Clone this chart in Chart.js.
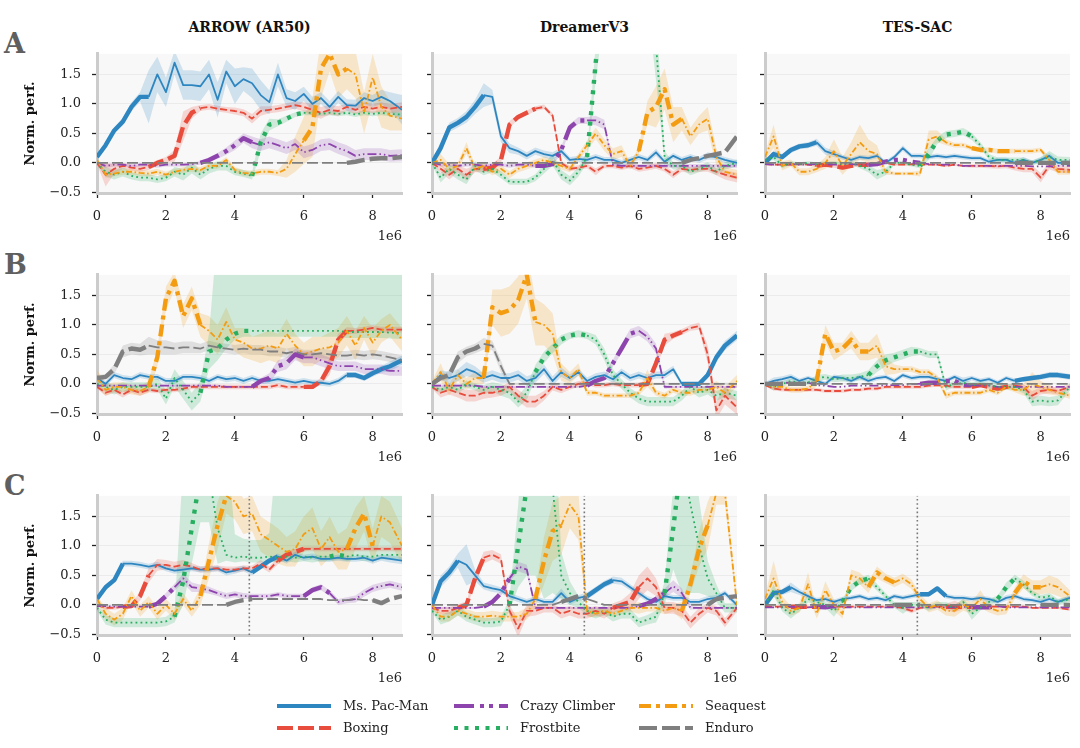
<!DOCTYPE html>
<html lang="en">
<head>
    <meta charset="UTF-8">
    <title>Normalized performance per task</title>
    <script src="https://cdn.jsdelivr.net/npm/chart.js"></script>
    <style>
        body { margin: 0; background: #fff; font-family: "DejaVu Serif", serif; color: #111; }
        #stage { position: relative; width: 1080px; height: 748px; overflow: hidden; }
        #stage canvas { position: absolute; }
        .colTitle { position: absolute; width: 305px; text-align: center; font-weight: bold; font-size: 14px; line-height: 16px; top: 19px; }
        .rowLetter { position: absolute; left: 4px; font-weight: bold; font-size: 27px; line-height: 27px; color: #5f5f5f; }
        .offset { position: absolute; font-size: 13px; line-height: 16px; color: #222; }
        .legItem { position: absolute; font-size: 13px; line-height: 16px; color: #222; white-space: nowrap; }
        .legItem svg { position: absolute; }
    </style>
</head>
<body>
<div id="stage"></div>

<script>
// x positions of the evaluation points, in millions of env steps
const xSteps = [0,0.25,0.5,0.75,1,1.25,1.5,1.75,2,2.25,2.5,2.75,3,3.25,3.5,3.75,4,4.25,4.5,4.75,5,5.25,5.5,5.75,6,6.25,6.5,6.75,7,7.25,7.5,7.75,8,8.25,8.5,8.85];
const xTicks = [0, 2, 4, 6, 8];
const yTicks = [-0.5, 0, 0.5, 1, 1.5];

const games = ['Ms. Pac-Man', 'Boxing', 'Crazy Climber', 'Frostbite', 'Seaquest', 'Enduro'];
const gameColors = ['#2e86c1', '#e74c3c', '#8e44ad', '#27ae60', '#f39c12', '#7f7f7f'];
const methods = ['ARROW (AR50)', 'DreamerV3', 'TES-SAC'];
const rowLetters = ['A', 'B', 'C'];

// task schedule of each row (index into games) and the step edges of each task (millions)
const taskOrderA = [0, 1, 2, 3, 4, 5];
const taskOrderB = [5, 4, 3, 2, 1, 0];
const taskOrderC = [0, 1, 2, 3, 4, 5, 0, 1, 2, 3, 4, 5];
const taskEdgesAB = [0, 1.475, 2.95, 4.425, 5.9, 7.375, 8.85];
const taskEdgesC = [0, 0.7375, 1.475, 2.2125, 2.95, 3.6875, 4.425, 5.1625, 5.9, 6.6375, 7.375, 8.1125, 8.85];
const switchLineC = 4.42;

// ---- Row A : 1 = ARROW (AR50), 2 = DreamerV3, 3 = TES-SAC ----
const A1_pac = [0.10,0.30,0.55,0.70,0.95,1.12,1.12,1.50,1.20,1.70,1.32,1.32, 1.30,1.50,1.07,1.55,1.30,1.42,1.35,1.15,1.03,1.50,1.10,1.05, 1.17,1.00,1.10,0.95,1.12,0.98,0.97,1.10,1.05,1.12,1.05,0.90];
const A1_pac_sd = [0.05,0.05,0.05,0.06,0.08,0.08,0.45,0.30,0.25,0.20,0.25,0.25, 0.25,0.25,0.30,0.20,0.30,0.20,0.25,0.25,0.20,0.20,0.15,0.15, 0.12,0.12,0.10,0.10,0.10,0.10,0.10,0.10,0.10,0.12,0.15,0.25];
const A1_box = [0.00,-0.20,-0.10,-0.05,-0.08,-0.10,-0.07,0.00,0.05,0.12,0.62,0.85, 0.93,0.95,0.92,0.90,0.88,0.85,0.75,0.88,0.90,0.92,0.95,0.98, 0.95,0.90,0.85,0.90,0.88,0.95,0.90,0.95,0.92,0.95,0.92,0.95];
const A1_box_sd = [0.02,0.20,0.08,0.05,0.05,0.05,0.05,0.05,0.05,0.10,0.25,0.10, 0.05,0.05,0.05,0.05,0.06,0.06,0.08,0.08,0.06,0.06,0.06,0.06, 0.08,0.10,0.10,0.08,0.08,0.06,0.08,0.08,0.08,0.08,0.08,0.08];
const A1_crazy = [0.00,-0.05,-0.03,-0.03,-0.05,-0.03,-0.03,-0.05,-0.03,-0.03,-0.03,-0.02, 0.00,0.05,0.12,0.20,0.30,0.42,0.35,0.30,0.35,0.30,0.25,0.32, 0.18,0.22,0.30,0.32,0.25,0.20,0.12,0.15,0.15,0.15,0.12,0.13];
const A1_crazy_sd = [0.02,0.03,0.03,0.03,0.03,0.03,0.03,0.03,0.03,0.03,0.03,0.03, 0.03,0.04,0.05,0.06,0.08,0.08,0.10,0.10,0.10,0.10,0.10,0.10, 0.10,0.10,0.10,0.10,0.10,0.10,0.10,0.10,0.10,0.10,0.10,0.10];
const A1_frost = [0.00,-0.15,-0.20,-0.15,-0.22,-0.25,-0.25,-0.28,-0.25,-0.15,-0.20,-0.08, -0.20,-0.10,-0.05,-0.05,-0.15,-0.18,-0.22,0.35,0.65,0.68,0.75,0.82, 0.85,0.85,0.83,0.85,0.83,0.85,0.82,0.85,0.83,0.85,0.83,0.82];
const A1_frost_sd = [0.03,0.08,0.08,0.08,0.06,0.06,0.06,0.06,0.06,0.08,0.10,0.10, 0.08,0.08,0.08,0.08,0.06,0.06,0.06,0.15,0.10,0.06,0.05,0.04, 0.04,0.04,0.04,0.04,0.04,0.04,0.04,0.04,0.04,0.04,0.04,0.04];
const A1_sea = [0.05,-0.20,-0.18,-0.15,-0.15,-0.17,-0.18,-0.15,-0.20,-0.15,-0.12,-0.10, -0.12,-0.05,-0.05,0.05,-0.12,-0.17,-0.18,-0.15,-0.15,-0.17,-0.10,0.15, 0.38,0.60,1.60,1.85,1.50,1.60,1.50,0.85,1.45,0.95,0.80,0.75];
const A1_sea_sd = [0.03,0.05,0.05,0.05,0.05,0.05,0.05,0.05,0.05,0.05,0.05,0.05, 0.05,0.05,0.05,0.05,0.05,0.05,0.05,0.05,0.05,0.05,0.15,0.30, 0.40,0.50,0.50,0.30,0.40,0.35,0.40,0.35,0.40,0.35,0.25,0.20];
const A1_enduro = [0,0,0,0,0,0,0,0,0,0,0,0, 0,0,0,0,0,0,0,0,0,0,0,0, 0,0,0,0,0,0,0.02,0.05,0.07,0.08,0.08,0.10];

const A2_pac = [0.00,0.25,0.60,0.68,0.78,0.95,1.15,1.12,0.45,0.25,0.20,0.12, 0.20,0.15,0.12,0.20,0.05,0.07,0.05,0.10,0.05,0.05,0.00,0.05, 0.10,0.05,0.18,0.02,0.12,0.05,0.10,0.05,0.12,0.10,0.05,0.00];
const A2_pac_sd = [0.03,0.10,0.08,0.08,0.10,0.12,0.20,0.12,0.10,0.08,0.06,0.06, 0.06,0.06,0.06,0.06,0.05,0.05,0.05,0.05,0.05,0.05,0.05,0.05, 0.05,0.05,0.06,0.05,0.05,0.05,0.05,0.05,0.06,0.05,0.05,0.05];
const A2_box = [0.00,-0.10,-0.20,-0.10,-0.20,-0.10,-0.10,-0.08,0.05,0.65,0.78,0.85, 0.92,0.95,0.80,0.00,-0.10,-0.08,-0.05,-0.15,-0.05,-0.05,-0.08,-0.05, -0.10,-0.08,-0.05,-0.10,-0.20,-0.10,-0.12,-0.10,-0.10,-0.15,-0.20,-0.25];
const A2_box_sd = [0.02,0.06,0.08,0.06,0.10,0.06,0.06,0.06,0.06,0.06,0.04,0.04, 0.04,0.04,0.04,0.04,0.04,0.04,0.04,0.06,0.04,0.04,0.04,0.04, 0.05,0.05,0.05,0.05,0.06,0.05,0.05,0.05,0.05,0.06,0.08,0.08];
const A2_crazy = [0.00,-0.03,-0.03,-0.05,-0.03,-0.03,-0.05,-0.03,-0.03,-0.05,-0.03,-0.03, -0.05,-0.05,-0.02,0.22,0.60,0.72,0.72,0.72,0.65,-0.03,-0.05,-0.05, -0.05,-0.05,-0.05,-0.05,-0.05,-0.05,-0.05,-0.05,-0.05,-0.05,-0.05,-0.05];
const A2_crazy_sd = [0.02,0.03,0.03,0.03,0.03,0.03,0.03,0.03,0.03,0.03,0.03,0.03, 0.03,0.03,0.03,0.06,0.06,0.06,0.06,0.08,0.08,0.03,0.03,0.03, 0.03,0.03,0.03,0.03,0.03,0.03,0.03,0.03,0.03,0.03,0.03,0.03];
const A2_frost = [0.00,-0.25,-0.10,-0.20,-0.28,-0.05,-0.15,-0.10,-0.20,-0.32,-0.32,-0.32, -0.25,-0.10,0.05,-0.20,-0.30,-0.15,0.10,1.70,3.00,4.00,4.00,4.00, 4.00,3.50,2.00,0.10,-0.05,-0.05,-0.15,-0.10,-0.05,-0.15,-0.05,0.00];
const A2_frost_sd = [0.03,0.08,0.08,0.08,0.08,0.08,0.06,0.06,0.06,0.05,0.05,0.05, 0.06,0.08,0.10,0.08,0.08,0.08,0.10,0.30,0.50,0.80,0.80,0.80, 0.80,0.80,0.60,0.10,0.06,0.06,0.06,0.06,0.06,0.06,0.06,0.06];
const A2_sea = [0.00,0.05,-0.10,-0.05,0.25,-0.10,-0.05,-0.15,-0.10,-0.20,-0.10,-0.05, 0.00,0.05,0.00,-0.05,-0.10,0.10,0.30,0.50,0.30,0.15,0.20,-0.05, 0.20,0.85,0.95,1.25,0.65,0.75,0.45,0.65,0.75,0.10,-0.15,-0.20];
const A2_sea_sd = [0.05,0.10,0.08,0.06,0.10,0.06,0.06,0.06,0.06,0.06,0.06,0.06, 0.06,0.06,0.06,0.06,0.06,0.06,0.08,0.10,0.10,0.10,0.10,0.06, 0.06,0.20,0.35,0.35,0.30,0.20,0.15,0.15,0.20,0.15,0.08,0.08];
const A2_enduro = [0,0,0,0,0,0,0,0,0,0,0,0, 0,0,0,0,0,0,0,0,0,0,0,0, 0,0,0,0,0,0,0.05,0.08,0.12,0.15,0.18,0.45];

const A3_pac = [0.00,0.15,0.10,0.22,0.28,0.30,0.35,0.20,0.15,0.10,0.05,0.10, 0.08,0.12,0.00,0.10,0.25,0.12,0.12,0.10,0.12,0.10,0.12,0.10, 0.08,0.08,0.02,0.05,0.05,0.00,0.05,0.00,0.05,0.12,0.00,0.00];
const A3_pac_sd = [0.03,0.06,0.05,0.05,0.05,0.05,0.06,0.06,0.05,0.04,0.04,0.04, 0.04,0.04,0.04,0.04,0.05,0.04,0.04,0.04,0.04,0.04,0.04,0.04, 0.04,0.04,0.04,0.04,0.04,0.04,0.05,0.04,0.04,0.05,0.05,0.05];
const A3_box = [-0.02,-0.03,-0.03,-0.03,-0.02,-0.03,-0.05,-0.03,-0.05,-0.08,-0.05,-0.03, -0.03,-0.02,0.00,-0.03,-0.03,-0.02,-0.03,-0.03,-0.03,-0.05,-0.03,-0.05, -0.05,-0.05,-0.05,-0.06,-0.05,-0.08,-0.10,-0.10,-0.25,-0.05,-0.10,-0.12];
const A3_box_sd = [0.02,0.02,0.02,0.02,0.02,0.02,0.02,0.02,0.03,0.03,0.03,0.02, 0.02,0.02,0.02,0.02,0.02,0.02,0.02,0.02,0.02,0.02,0.02,0.02, 0.03,0.03,0.04,0.04,0.04,0.05,0.06,0.06,0.08,0.06,0.06,0.06];
const A3_crazy = [-0.02,-0.03,-0.03,-0.02,-0.03,-0.03,-0.02,-0.02,-0.03,-0.02,-0.02,-0.03, -0.03,-0.02,0.02,0.05,0.05,0.02,0.00,-0.02,-0.03,-0.03,-0.03,-0.05, -0.05,-0.05,-0.05,-0.05,-0.05,-0.05,-0.05,-0.06,-0.06,-0.06,-0.05,-0.05];
const A3_frost = [0.05,0.10,-0.05,0.00,-0.02,0.00,-0.02,0.00,0.00,-0.02,0.00,-0.05, -0.10,-0.20,-0.15,0.00,0.00,-0.03,-0.05,0.15,0.38,0.48,0.50,0.53, 0.45,0.30,0.10,0.05,0.05,0.05,0.05,0.00,0.05,0.10,0.05,0.05];
const A3_frost_sd = [0.03,0.05,0.04,0.03,0.03,0.03,0.03,0.03,0.03,0.03,0.03,0.04, 0.06,0.08,0.06,0.04,0.03,0.03,0.04,0.10,0.06,0.06,0.06,0.06, 0.06,0.05,0.05,0.04,0.04,0.04,0.04,0.04,0.05,0.10,0.06,0.05];
const A3_sea = [0.10,0.45,-0.05,0.00,-0.15,-0.15,-0.10,0.00,0.20,-0.05,0.15,0.35, 0.20,0.15,-0.15,-0.18,-0.18,-0.18,-0.18,0.40,0.45,0.35,0.30,0.30, 0.25,0.22,0.22,0.20,0.20,0.20,0.20,0.20,0.22,0.05,-0.15,-0.15];
const A3_sea_sd = [0.05,0.20,0.08,0.06,0.06,0.06,0.06,0.10,0.20,0.15,0.20,0.30, 0.20,0.15,0.05,0.03,0.03,0.03,0.05,0.15,0.10,0.05,0.04,0.04, 0.04,0.04,0.04,0.04,0.04,0.04,0.04,0.04,0.04,0.06,0.05,0.05];
const A3_enduro = [0,0,0,0,0,0,0,0,0,0,0,0, 0,0,0,0,0,0,0,0,0,0,0,0, 0,0,0,0,0,0,0,0,0,0,0,0];

// ---- Row B ----
const B1_pac = [0.10,0.00,0.15,0.10,0.08,0.15,0.12,0.12,0.05,0.05,0.12,0.12, 0.10,0.05,0.12,0.08,0.10,0.05,0.10,0.05,0.05,0.08,0.05,0.02, 0.05,0.02,0.02,0.00,0.05,0.15,0.15,0.10,0.18,0.25,0.30,0.40];
const B1_pac_sd = [0.05,0.05,0.05,0.05,0.05,0.05,0.05,0.05,0.05,0.05,0.05,0.05, 0.05,0.05,0.05,0.05,0.05,0.05,0.05,0.05,0.05,0.05,0.05,0.05, 0.05,0.05,0.05,0.05,0.05,0.05,0.05,0.05,0.06,0.06,0.08,0.08];
const B1_box = [-0.05,-0.15,-0.10,-0.18,-0.10,-0.15,-0.10,-0.12,-0.10,-0.10,-0.08,-0.05, -0.05,-0.05,-0.05,-0.05,-0.05,-0.05,-0.05,-0.05,-0.05,-0.02,-0.05,-0.05, -0.05,-0.05,0.05,0.30,0.75,0.90,0.90,0.92,0.95,0.92,0.92,0.92];
const B1_box_sd = [0.03,0.05,0.05,0.05,0.05,0.05,0.04,0.04,0.04,0.04,0.04,0.04, 0.04,0.04,0.04,0.04,0.04,0.04,0.04,0.04,0.04,0.04,0.04,0.04, 0.04,0.04,0.06,0.15,0.10,0.06,0.05,0.05,0.05,0.05,0.05,0.05];
const B1_crazy = [-0.03,-0.03,-0.03,-0.03,-0.03,-0.03,-0.03,-0.03,-0.03,-0.03,-0.03,-0.03, -0.03,-0.03,-0.03,-0.05,-0.05,-0.05,-0.05,0.05,0.10,0.30,0.35,0.50, 0.45,0.45,0.40,0.35,0.30,0.30,0.30,0.25,0.25,0.25,0.22,0.22];
const B1_crazy_sd = [0.02,0.02,0.02,0.02,0.02,0.02,0.02,0.02,0.02,0.02,0.02,0.02, 0.02,0.02,0.02,0.02,0.02,0.02,0.02,0.05,0.08,0.10,0.10,0.10, 0.10,0.10,0.10,0.10,0.08,0.08,0.08,0.08,0.08,0.08,0.08,0.08];
const B1_frost = [0.00,-0.05,-0.10,-0.05,-0.05,-0.05,-0.05,0.00,-0.25,0.10,-0.10,-0.30, -0.15,0.55,0.60,0.75,0.85,0.90,0.90,0.90,0.90,0.90,0.90,0.90, 0.90,0.90,0.90,0.90,0.90,0.88,0.88,0.88,0.88,0.88,0.87,0.86];
const B1_frost_up = [0.05,0.08,0.08,0.08,0.08,0.08,0.08,0.10,0.15,0.15,0.15,0.15, 0.20,0.30,2.00,2.00,2.00,2.00,2.00,2.00,2.00,2.00,2.00,2.00, 2.00,2.00,2.00,2.00,2.00,2.00,2.00,2.00,2.00,2.00,2.00,2.00];
const B1_frost_dn = [0.05,0.08,0.08,0.08,0.08,0.08,0.08,0.10,0.10,0.15,0.15,0.15, 0.15,0.30,0.20,0.15,0.10,0.10,0.10,0.10,0.10,0.10,0.10,0.10, 0.10,0.10,0.10,0.10,0.10,0.10,0.10,0.10,0.10,0.10,0.10,0.10];
const B1_sea = [0.10,-0.10,-0.05,-0.05,-0.10,-0.12,-0.05,0.45,1.45,1.75,1.15,1.45, 1.00,0.90,0.75,1.05,0.75,0.70,0.60,0.60,0.65,0.60,0.85,0.65, 0.50,0.55,0.60,0.62,0.70,0.90,0.65,0.95,0.70,0.90,1.00,0.75];
const B1_sea_sd = [0.15,0.10,0.08,0.08,0.08,0.08,0.10,0.15,0.20,0.15,0.20,0.20, 0.20,0.25,0.25,0.25,0.20,0.25,0.20,0.25,0.25,0.25,0.25,0.20, 0.20,0.25,0.20,0.25,0.25,0.25,0.25,0.20,0.25,0.20,0.20,0.20];
const B1_enduro = [0.10,0.12,0.25,0.55,0.60,0.58,0.65,0.62,0.62,0.60,0.62,0.62, 0.60,0.65,0.62,0.60,0.58,0.60,0.58,0.58,0.55,0.55,0.52,0.55, 0.50,0.50,0.52,0.50,0.48,0.48,0.50,0.48,0.50,0.48,0.45,0.40];
const B1_enduro_sd = [0.05,0.05,0.08,0.10,0.10,0.10,0.15,0.12,0.12,0.10,0.10,0.10, 0.08,0.08,0.08,0.08,0.08,0.08,0.08,0.08,0.08,0.08,0.08,0.08, 0.08,0.08,0.08,0.08,0.08,0.08,0.08,0.08,0.08,0.08,0.08,0.08];

const B2_pac = [0.00,0.15,0.10,0.15,0.25,0.20,0.10,0.15,0.10,0.10,0.15,0.05, 0.10,0.25,0.05,0.20,0.10,0.20,0.05,0.12,0.15,0.08,0.20,0.10, 0.15,0.10,0.15,0.15,0.25,0.00,0.00,0.00,0.15,0.45,0.65,0.82];
const B2_pac_sd = [0.03,0.08,0.10,0.10,0.12,0.10,0.08,0.08,0.08,0.08,0.08,0.08, 0.08,0.08,0.08,0.08,0.06,0.06,0.06,0.06,0.06,0.06,0.06,0.06, 0.06,0.06,0.06,0.06,0.06,0.03,0.03,0.03,0.06,0.08,0.08,0.08];
const B2_box = [-0.05,-0.15,-0.10,-0.15,-0.20,-0.20,-0.15,-0.15,-0.12,-0.05,-0.20,-0.30, -0.30,-0.20,-0.05,-0.10,-0.05,0.00,0.02,-0.02,-0.02,0.00,-0.02,-0.02, -0.02,0.00,0.35,0.75,0.82,0.88,0.95,0.98,0.50,-0.45,-0.20,-0.40];
const B2_box_sd = [0.03,0.08,0.08,0.08,0.10,0.10,0.10,0.08,0.08,0.08,0.10,0.10, 0.10,0.08,0.06,0.06,0.05,0.05,0.04,0.04,0.04,0.04,0.04,0.04, 0.04,0.04,0.10,0.10,0.06,0.05,0.05,0.06,0.15,0.15,0.15,0.12];
const B2_crazy = [-0.03,-0.03,-0.03,-0.03,-0.03,-0.03,-0.05,-0.05,-0.05,-0.05,-0.05,-0.05, -0.05,-0.05,-0.05,-0.05,-0.05,-0.05,-0.03,0.05,0.10,0.35,0.60,0.85, 0.90,0.80,0.60,-0.05,-0.05,-0.05,-0.05,-0.05,-0.05,-0.05,-0.05,-0.05];
const B2_crazy_sd = [0.02,0.02,0.02,0.02,0.02,0.02,0.02,0.02,0.02,0.02,0.02,0.02, 0.02,0.02,0.02,0.02,0.02,0.02,0.02,0.04,0.05,0.06,0.08,0.08, 0.08,0.08,0.08,0.03,0.02,0.02,0.02,0.02,0.02,0.02,0.02,0.02];
const B2_frost = [-0.05,-0.10,-0.05,-0.10,0.00,-0.05,-0.10,-0.05,-0.10,-0.15,-0.30,-0.15, 0.20,0.45,0.60,0.75,0.82,0.85,0.82,0.75,0.50,0.15,0.00,-0.15, -0.25,-0.30,-0.30,-0.30,-0.30,-0.20,-0.05,-0.15,-0.10,-0.20,-0.15,-0.20];
const B2_frost_sd = [0.03,0.06,0.06,0.06,0.06,0.06,0.08,0.08,0.10,0.10,0.10,0.12, 0.12,0.10,0.08,0.08,0.06,0.06,0.06,0.08,0.10,0.10,0.08,0.08, 0.08,0.08,0.08,0.08,0.08,0.08,0.08,0.08,0.08,0.08,0.08,0.08];
const B2_sea = [0.00,0.20,-0.10,0.15,0.00,0.10,0.10,1.30,1.20,1.25,1.42,1.85, 1.05,1.00,0.85,0.20,0.10,0.25,-0.15,-0.15,-0.20,-0.20,-0.20,-0.20, -0.15,0.10,-0.15,-0.20,-0.10,-0.15,-0.15,-0.10,-0.10,-0.05,-0.15,0.05];
const B2_sea_sd = [0.05,0.15,0.10,0.10,0.10,0.10,0.10,0.30,0.40,0.40,0.40,0.40, 0.40,0.35,0.35,0.15,0.10,0.10,0.05,0.04,0.04,0.04,0.04,0.04, 0.04,0.15,0.05,0.05,0.05,0.05,0.05,0.05,0.05,0.10,0.10,0.10];
const B2_enduro = [0.00,0.10,0.15,0.45,0.55,0.60,0.68,0.65,0.30,0.00,0.00,0.00, 0,0,0,0,0,0,0,0,0,0,0,0, 0,0,0,0,0,0,0,0,0,0,0,0];
const B2_enduro_sd = [0.02,0.05,0.08,0.10,0.08,0.08,0.10,0.08,0.10,0.02,0.02,0.02, 0.02,0.02,0.02,0.02,0.02,0.02,0.02,0.02,0.02,0.02,0.02,0.02, 0.02,0.02,0.02,0.02,0.02,0.02,0.02,0.02,0.02,0.02,0.02,0.02];

const B3_pac = [0.00,0.05,0.08,0.12,0.05,0.10,0.05,0.00,0.12,0.10,0.05,0.12, 0.05,0.10,0.12,0.05,0.15,0.10,0.12,0.12,0.08,0.05,0.12,0.05, 0.10,0.05,0.08,0.02,0.10,0.05,0.08,0.10,0.12,0.15,0.15,0.12];
const B3_pac_sd = [0.03,0.06,0.05,0.05,0.04,0.04,0.04,0.04,0.04,0.04,0.04,0.04, 0.04,0.04,0.04,0.04,0.04,0.04,0.04,0.04,0.04,0.04,0.04,0.06, 0.04,0.04,0.04,0.04,0.04,0.04,0.04,0.04,0.05,0.05,0.05,0.05];
const B3_box = [-0.02,-0.08,-0.10,-0.10,-0.10,-0.10,-0.10,-0.12,-0.12,-0.12,-0.10,-0.10, -0.08,-0.08,-0.05,-0.05,-0.05,-0.05,-0.05,-0.03,-0.02,-0.03,-0.05,-0.05, -0.05,-0.02,-0.05,-0.08,-0.05,-0.03,-0.05,-0.20,-0.12,-0.10,-0.12,-0.05];
const B3_box_sd = [0.02,0.03,0.03,0.03,0.03,0.03,0.03,0.03,0.03,0.03,0.03,0.03, 0.03,0.03,0.03,0.03,0.03,0.03,0.03,0.03,0.03,0.03,0.03,0.03, 0.03,0.03,0.03,0.04,0.04,0.04,0.05,0.08,0.06,0.06,0.06,0.05];
const B3_crazy = [0.00,0.02,0.02,0.02,0.02,0.02,-0.02,-0.03,-0.05,-0.05,-0.03,-0.03, -0.03,-0.03,-0.02,-0.02,-0.02,0.00,0.00,0.02,0.02,0.05,0.05,-0.02, -0.02,-0.03,-0.03,-0.05,-0.05,-0.05,-0.05,-0.05,-0.05,-0.05,-0.05,-0.05];
const B3_frost = [0.00,-0.05,0.00,0.05,0.02,0.02,0.10,0.12,0.08,0.10,0.10,0.12, 0.15,0.30,0.40,0.45,0.50,0.55,0.55,0.50,0.50,-0.05,0.00,0.02, -0.02,0.00,-0.02,-0.05,-0.05,-0.05,-0.10,-0.30,-0.28,-0.30,-0.28,-0.05];
const B3_frost_sd = [0.03,0.06,0.04,0.04,0.04,0.04,0.05,0.05,0.05,0.06,0.06,0.06, 0.08,0.10,0.10,0.08,0.08,0.08,0.06,0.06,0.06,0.06,0.05,0.05, 0.05,0.05,0.05,0.08,0.05,0.05,0.06,0.08,0.08,0.08,0.08,0.06];
const B3_sea = [0.00,-0.05,-0.05,-0.10,-0.10,-0.08,0.05,0.85,0.55,0.60,0.75,0.55, 0.55,0.65,0.30,0.25,0.25,0.25,0.20,0.20,0.10,-0.20,-0.15,-0.15, -0.15,-0.15,-0.10,-0.15,-0.05,-0.10,-0.10,0.00,-0.05,-0.10,-0.15,-0.20];
const B3_sea_sd = [0.03,0.05,0.05,0.05,0.05,0.05,0.10,0.15,0.15,0.10,0.15,0.15, 0.15,0.20,0.15,0.08,0.05,0.05,0.05,0.05,0.05,0.05,0.04,0.04, 0.04,0.04,0.04,0.04,0.04,0.04,0.10,0.20,0.10,0.08,0.05,0.05];
const B3_enduro = [0,0,0,0,0,0,0,0,0,0,0,0, 0,0,0,0,0,0,0,0,0,0,0,0, 0,0,0,0,0,0,0,0,0,0,0,0];

// ---- Row C ----
const C1_pac = [0.10,0.30,0.42,0.70,0.70,0.68,0.65,0.68,0.62,0.58,0.60,0.62, 0.60,0.60,0.62,0.55,0.58,0.62,0.55,0.65,0.75,0.82,0.75,0.85, 0.80,0.82,0.78,0.78,0.80,0.78,0.78,0.80,0.75,0.80,0.78,0.75];
const C1_pac_sd = [0.03,0.05,0.05,0.05,0.05,0.05,0.05,0.05,0.05,0.05,0.05,0.05, 0.05,0.05,0.05,0.05,0.05,0.05,0.05,0.05,0.05,0.05,0.05,0.05, 0.05,0.05,0.05,0.05,0.05,0.05,0.05,0.05,0.05,0.05,0.06,0.06];
const C1_box = [0.00,-0.05,-0.05,-0.03,-0.02,0.15,0.50,0.68,0.68,0.65,0.68,0.65, 0.60,0.62,0.62,0.60,0.60,0.62,0.62,0.70,0.60,0.75,0.85,0.90, 0.95,0.95,0.95,0.95,0.95,0.95,0.95,0.95,0.95,0.95,0.95,0.95];
const C1_box_sd = [0.02,0.03,0.03,0.03,0.03,0.08,0.12,0.10,0.08,0.08,0.08,0.06, 0.05,0.05,0.05,0.05,0.05,0.05,0.05,0.06,0.05,0.06,0.06,0.05, 0.04,0.04,0.04,0.04,0.04,0.04,0.04,0.04,0.04,0.04,0.04,0.04];
const C1_crazy = [-0.02,-0.02,-0.03,-0.03,-0.03,-0.03,-0.03,0.02,0.15,0.30,0.45,0.30, 0.28,0.25,0.20,0.15,0.18,0.15,0.15,0.15,0.15,0.18,0.15,0.15, 0.15,0.25,0.30,0.20,0.05,0.08,0.10,0.20,0.28,0.32,0.35,0.30];
const C1_crazy_sd = [0.02,0.02,0.02,0.02,0.02,0.02,0.02,0.03,0.05,0.06,0.08,0.08, 0.06,0.06,0.05,0.05,0.05,0.05,0.04,0.04,0.04,0.04,0.04,0.04, 0.04,0.05,0.05,0.05,0.05,0.05,0.06,0.06,0.06,0.06,0.06,0.06];
const C1_frost = [-0.05,-0.25,-0.30,-0.30,-0.30,-0.30,-0.30,-0.30,-0.28,-0.20,0.40,1.30, 2.20,2.20,1.30,0.85,0.80,0.82,0.80,0.80,0.82,0.80,0.82,0.80, 0.82,0.80,0.82,0.82,0.85,0.82,0.85,0.82,0.82,0.85,0.85,0.85];
const C1_frost_up = [0.05,0.08,0.08,0.08,0.08,0.08,0.08,0.08,0.08,0.10,2.00,2.00, 2.00,2.00,2.00,2.00,0.40,0.30,0.30,0.30,0.40,2.00,2.00,2.00, 2.00,2.00,2.00,2.00,2.00,2.00,2.00,2.00,2.00,2.00,2.00,2.00];
const C1_frost_dn = [0.05,0.08,0.08,0.08,0.08,0.08,0.08,0.08,0.08,0.10,0.40,0.60, 0.80,0.80,0.60,0.10,0.08,0.08,0.08,0.08,0.08,0.08,0.08,0.08, 0.08,0.08,0.08,0.08,0.08,0.08,0.08,0.08,0.08,0.08,0.08,0.08];
const C1_sea = [0.10,-0.15,-0.25,-0.15,0.15,-0.10,0.05,-0.15,0.00,-0.15,0.10,-0.10, 0.15,0.75,1.35,1.85,1.75,1.50,1.55,1.20,1.10,1.00,0.90,0.95, 1.20,1.30,0.95,1.15,0.90,0.95,1.30,1.55,1.00,1.50,1.40,1.00];
const C1_sea_sd = [0.05,0.10,0.10,0.10,0.10,0.10,0.10,0.10,0.10,0.10,0.10,0.10, 0.15,0.30,0.40,0.30,0.30,0.30,0.30,0.30,0.30,0.30,0.25,0.30, 0.30,0.35,0.30,0.35,0.30,0.35,0.35,0.30,0.30,0.35,0.35,0.30];
const C1_enduro = [0,0,0,0,0,0,0,0,0,0,0,0, 0,0,0,0,0.05,0.08,0.10,0.10,0.10,0.10,0.10,0.10, 0.10,0.10,0.10,0.08,0.08,0.08,0.10,0.08,0.08,0.03,0.10,0.15];

const C2_pac = [0.00,0.40,0.55,0.75,0.68,0.50,0.32,0.28,0.25,0.15,0.10,0.05, 0.10,0.05,0.05,0.20,0.05,0.12,0.15,0.25,0.35,0.42,0.40,0.30, 0.20,0.10,0.05,0.15,0.12,0.12,0.05,0.05,0.10,0.12,0.20,0.00];
const C2_pac_sd = [0.03,0.10,0.10,0.12,0.35,0.10,0.06,0.06,0.05,0.05,0.05,0.05, 0.05,0.05,0.05,0.08,0.05,0.05,0.06,0.06,0.06,0.06,0.06,0.05, 0.05,0.05,0.05,0.05,0.05,0.05,0.05,0.05,0.05,0.05,0.05,0.05];
const C2_box = [-0.05,-0.10,-0.10,-0.05,0.00,0.45,0.80,0.85,0.78,-0.10,-0.40,-0.10, -0.10,-0.05,-0.05,-0.15,-0.10,-0.15,-0.15,-0.10,-0.15,-0.05,0.00,0.05, 0.30,0.45,0.30,-0.05,-0.05,-0.10,-0.30,-0.15,-0.05,-0.10,-0.30,-0.05];
const C2_box_sd = [0.03,0.06,0.06,0.06,0.06,0.10,0.10,0.08,0.08,0.10,0.15,0.10, 0.08,0.08,0.08,0.08,0.08,0.08,0.08,0.08,0.08,0.08,0.08,0.15, 0.20,0.20,0.15,0.10,0.10,0.10,0.10,0.10,0.08,0.08,0.08,0.06];
const C2_crazy = [-0.05,-0.05,-0.05,-0.05,-0.05,-0.05,-0.03,0.05,0.20,0.45,0.65,0.60, -0.05,-0.05,-0.05,-0.05,-0.05,-0.05,-0.05,-0.05,-0.05,-0.05,-0.05,-0.05, -0.02,0.02,0.10,0.20,0.32,0.20,-0.05,-0.05,-0.05,-0.05,-0.05,-0.05];
const C2_crazy_sd = [0.02,0.02,0.02,0.02,0.02,0.02,0.02,0.03,0.05,0.06,0.08,0.08, 0.03,0.02,0.02,0.02,0.02,0.02,0.02,0.02,0.02,0.02,0.02,0.02, 0.02,0.03,0.05,0.08,0.10,0.08,0.03,0.02,0.02,0.02,0.02,0.02];
const C2_frost = [-0.10,-0.25,-0.20,-0.10,-0.20,-0.25,-0.30,-0.30,-0.28,0.00,1.00,2.00, 2.50,1.90,2.00,0.50,0.20,0.05,-0.10,-0.15,-0.10,-0.20,-0.15,-0.15, -0.30,-0.25,-0.20,0.20,1.30,2.50,1.70,1.00,0.45,0.20,-0.05,-0.05];
const C2_frost_sd = [0.03,0.08,0.08,0.08,0.08,0.08,0.08,0.08,0.08,0.10,0.70,1.50, 2.00,1.80,1.80,0.40,0.20,0.10,0.08,0.08,0.08,0.08,0.08,0.08, 0.08,0.08,0.10,0.20,0.70,2.30,1.50,0.80,0.30,0.15,0.08,0.08];
const C2_sea = [0.00,-0.20,-0.20,-0.10,-0.15,-0.20,-0.20,-0.18,-0.20,-0.20,-0.20,-0.15, 0.10,0.75,1.25,1.35,1.70,1.50,-0.10,-0.15,-0.10,-0.15,-0.10,-0.05, -0.05,-0.05,-0.05,-0.10,-0.05,-0.10,0.35,0.95,1.35,1.90,1.90,0.00];
const C2_sea_sd = [0.05,0.08,0.08,0.08,0.08,0.08,0.08,0.08,0.08,0.08,0.08,0.10, 0.15,0.40,0.50,0.50,0.40,0.40,0.10,0.06,0.06,0.06,0.06,0.06, 0.10,0.06,0.06,0.06,0.06,0.15,0.15,0.30,0.40,0.20,0.20,0.10];
const C2_enduro = [0,0,0,0,0,0,0,0,0,0,0,0, 0,0,0,0.05,0.10,0.15,0.10,0.05,0,0,0,0, 0,0,0,0,0,0,0,0,0,0.10,0.12,0.15];

const C3_pac = [0.00,0.20,0.22,0.30,0.22,0.15,0.08,0.10,0.05,0.10,0.12,0.15, 0.10,0.12,0.08,0.15,0.12,0.15,0.18,0.18,0.28,0.15,0.12,0.12, 0.10,0.12,0.10,0.05,0.12,0.15,0.10,0.08,0.05,0.10,0.05,0.12];
const C3_pac_sd = [0.03,0.05,0.05,0.08,0.05,0.04,0.04,0.04,0.04,0.04,0.04,0.04, 0.04,0.04,0.04,0.04,0.04,0.04,0.04,0.04,0.04,0.04,0.04,0.04, 0.04,0.04,0.04,0.04,0.05,0.04,0.04,0.04,0.04,0.04,0.04,0.04];
const C3_box = [-0.02,-0.03,-0.03,-0.03,-0.03,-0.03,-0.03,-0.03,-0.03,-0.03,-0.03,-0.03, -0.03,-0.03,-0.03,-0.03,-0.05,-0.10,-0.05,-0.03,-0.03,-0.03,-0.03,-0.03, -0.03,-0.03,-0.03,-0.03,-0.03,-0.03,-0.03,-0.05,-0.05,-0.05,-0.05,-0.08];
const C3_box_sd = [0.02,0.02,0.02,0.02,0.02,0.02,0.02,0.02,0.02,0.02,0.02,0.02, 0.02,0.02,0.02,0.02,0.03,0.04,0.03,0.02,0.02,0.05,0.10,0.04, 0.02,0.02,0.02,0.02,0.02,0.02,0.02,0.02,0.02,0.02,0.02,0.02];
const C3_crazy = [-0.04,-0.04,-0.04,-0.03,-0.04,-0.04,-0.03,-0.04,-0.02,-0.04,-0.04,-0.04, -0.04,-0.04,-0.04,-0.04,-0.04,-0.04,-0.04,-0.04,-0.04,-0.04,-0.04,-0.03, -0.04,-0.04,-0.04,-0.02,-0.04,-0.04,-0.04,-0.04,-0.04,-0.04,-0.04,-0.04];
const C3_frost = [0.00,0.25,-0.05,-0.15,-0.05,0.10,0.05,0.00,-0.10,0.05,0.30,0.40, 0.45,0.30,0.15,0.00,-0.05,0.00,0.00,-0.05,0.00,0.00,-0.05,0.05, -0.15,-0.05,0.05,0.10,0.30,0.45,0.35,0.20,0.12,0.15,0.05,0.10];
const C3_frost_sd = [0.03,0.10,0.06,0.08,0.06,0.06,0.05,0.05,0.10,0.05,0.06,0.06, 0.06,0.06,0.05,0.05,0.10,0.05,0.05,0.05,0.05,0.05,0.05,0.05, 0.10,0.05,0.05,0.06,0.08,0.06,0.06,0.05,0.05,0.05,0.05,0.05];
const C3_sea = [0.10,0.45,0.05,-0.10,-0.05,0.35,-0.15,0.25,0.00,-0.15,0.50,0.45, 0.30,0.55,0.45,0.38,0.45,0.35,0.10,-0.05,0.00,-0.10,-0.10,0.00, -0.05,0.10,-0.05,-0.10,-0.08,0.20,0.40,0.30,0.30,0.35,0.30,0.15];
const C3_sea_sd = [0.05,0.30,0.10,0.08,0.08,0.20,0.08,0.15,0.10,0.08,0.10,0.10, 0.10,0.10,0.08,0.08,0.08,0.08,0.08,0.08,0.08,0.08,0.10,0.10, 0.10,0.15,0.08,0.08,0.08,0.10,0.12,0.12,0.12,0.15,0.15,0.10];
const C3_enduro = [0,0,0,0,0,0,0,0,0,0,0,0, 0,0,0,0,0,0,0,0,0,0,0,0, 0,0,0,0,0,0,0,0,0,0,0,0];

// series per panel, in the order of `games`
const panelMeans = {
    A1: [A1_pac, A1_box, A1_crazy, A1_frost, A1_sea, A1_enduro],
    A2: [A2_pac, A2_box, A2_crazy, A2_frost, A2_sea, A2_enduro],
    A3: [A3_pac, A3_box, A3_crazy, A3_frost, A3_sea, A3_enduro],
    B1: [B1_pac, B1_box, B1_crazy, B1_frost, B1_sea, B1_enduro],
    B2: [B2_pac, B2_box, B2_crazy, B2_frost, B2_sea, B2_enduro],
    B3: [B3_pac, B3_box, B3_crazy, B3_frost, B3_sea, B3_enduro],
    C1: [C1_pac, C1_box, C1_crazy, C1_frost, C1_sea, C1_enduro],
    C2: [C2_pac, C2_box, C2_crazy, C2_frost, C2_sea, C2_enduro],
    C3: [C3_pac, C3_box, C3_crazy, C3_frost, C3_sea, C3_enduro]
};
const panelBands = {
    A1: [A1_pac_sd, A1_box_sd, A1_crazy_sd, A1_frost_sd, A1_sea_sd, null],
    A2: [A2_pac_sd, A2_box_sd, A2_crazy_sd, A2_frost_sd, A2_sea_sd, null],
    A3: [A3_pac_sd, A3_box_sd, null, A3_frost_sd, A3_sea_sd, null],
    B1: [B1_pac_sd, B1_box_sd, B1_crazy_sd, {up: B1_frost_up, dn: B1_frost_dn}, B1_sea_sd, B1_enduro_sd],
    B2: [B2_pac_sd, B2_box_sd, B2_crazy_sd, B2_frost_sd, B2_sea_sd, B2_enduro_sd],
    B3: [B3_pac_sd, B3_box_sd, null, B3_frost_sd, B3_sea_sd, null],
    C1: [C1_pac_sd, C1_box_sd, C1_crazy_sd, {up: C1_frost_up, dn: C1_frost_dn}, C1_sea_sd, null],
    C2: [C2_pac_sd, C2_box_sd, C2_crazy_sd, C2_frost_sd, C2_sea_sd, null],
    C3: [C3_pac_sd, C3_box_sd, null, C3_frost_sd, C3_sea_sd, null]
};

// ---- styling ----
const thinW = 1.8, thickW = 4.4;
const dashThin = [[], [7, 3], [9, 3, 1.5, 3, 1.5, 3], [1.8, 3.2], [6, 2.5, 1.6, 2.5], [11, 4]];
const dashThick = [[], [16, 5], [20, 6, 4, 5, 4, 6], [4, 6.5], [12, 5, 4, 5], [18, 5]];
const xMax = 8.85, yMin = -0.51, yMax = 1.85;
const colLeft = [97, 432, 765];
const rowTop = [45, 266, 487];
const PW = 305, PH = 148;
const rows = [
    { order: taskOrderA, edges: taskEdgesAB, vline: null },
    { order: taskOrderB, edges: taskEdgesAB, vline: null },
    { order: taskOrderC, edges: taskEdgesC, vline: switchLineC }
];

Chart.defaults.font.family = "'DejaVu Serif', serif";
Chart.defaults.color = '#222';

function withAlpha(hex, a) {
    const n = parseInt(hex.slice(1), 16);
    return `rgba(${n >> 16},${(n >> 8) & 255},${n & 255},${a})`;
}

function toPts(vals) {
    return xSteps.map((x, i) => ({ x: x * 1e6, y: vals[i] }));
}

// a segment is drawn thick while its game is the one being trained
function isThick(row, g, ctx) {
    const xm = (ctx.p0.parsed.x + ctx.p1.parsed.x) / 2e6;
    for (let k = 0; k < row.order.length; k++) {
        if (xm >= row.edges[k] && xm < row.edges[k + 1]) return row.order[k] === g;
    }
    return false;
}

const plotBg = {
    id: 'plotBg',
    beforeDraw(chart) {
        const { ctx, chartArea: a } = chart;
        ctx.save();
        ctx.fillStyle = '#f8f8f8';
        ctx.fillRect(a.left, a.top, a.right - a.left, a.bottom - a.top);
        ctx.restore();
    }
};

const stage = document.getElementById('stage');

function addDiv(cls, text, css) {
    const d = document.createElement('div');
    d.className = cls;
    d.textContent = text;
    d.style.cssText = css;
    stage.appendChild(d);
    return d;
}

methods.forEach((m, c) => addDiv('colTitle', m, `left:${colLeft[c]}px;`));
rowLetters.forEach((l, r) => addDiv('rowLetter', l, `top:${rowTop[r] - 15}px;`));

rows.forEach((row, r) => {
    colLeft.forEach((left, c) => {
        const key = rowLetters[r] + (c + 1);
        const means = panelMeans[key];
        const bands = panelBands[key];
        const yw = c === 0 ? 85 : 20;

        const canvas = document.createElement('canvas');
        canvas.width = yw + PW + 10;
        canvas.height = 10 + PH + 40;
        canvas.style.left = (left - yw) + 'px';
        canvas.style.top = (rowTop[r] - 10) + 'px';
        stage.appendChild(canvas);

        const datasets = [];
        means.forEach((vals, g) => {
            const band = bands[g];
            if (!band) return;
            const up = Array.isArray(band) ? band : band.up;
            const dn = Array.isArray(band) ? band : band.dn;
            datasets.push({
                data: toPts(vals.map((v, i) => v - dn[i])),
                borderWidth: 0, borderColor: 'rgba(0,0,0,0)', pointRadius: 0, fill: false, order: 50
            });
            datasets.push({
                data: toPts(vals.map((v, i) => v + up[i])),
                borderWidth: 0, borderColor: 'rgba(0,0,0,0)', pointRadius: 0,
                fill: datasets.length - 1, backgroundColor: withAlpha(gameColors[g], 0.2), order: 50
            });
        });
        means.forEach((vals, g) => {
            datasets.push({
                data: toPts(vals),
                borderColor: gameColors[g],
                borderWidth: thinW,
                borderCapStyle: 'butt',
                borderJoinStyle: 'round',
                pointRadius: 0,
                fill: false,
                order: 10 - g,
                segment: {
                    borderWidth: ctx => isThick(row, g, ctx) ? thickW : thinW,
                    borderDash: ctx => isThick(row, g, ctx) ? dashThick[g] : dashThin[g]
                }
            });
        });
        if (row.vline !== null) {
            datasets.push({
                data: [{ x: row.vline * 1e6, y: yMin }, { x: row.vline * 1e6, y: yMax }],
                borderColor: '#777', borderWidth: 1.6, borderDash: [1.6, 2.6],
                pointRadius: 0, fill: false, order: 0
            });
        }

        new Chart(canvas, {
            type: 'line',
            data: { datasets },
            plugins: [plotBg],
            options: {
                responsive: false,
                animation: false,
                events: [],
                layout: { padding: { top: 10, right: 10, left: 0, bottom: 0 } },
                plugins: { legend: { display: false }, tooltip: { enabled: false } },
                scales: {
                    x: {
                        type: 'linear', min: 0, max: xMax * 1e6,
                        afterBuildTicks: s => { s.ticks = xTicks.map(v => ({ value: v * 1e6 })); },
                        afterFit: s => { s.height = 40; },
                        ticks: { callback: v => String(v / 1e6), font: { size: 13 }, color: '#222', padding: 11, maxRotation: 0, autoSkip: false },
                        grid: { drawOnChartArea: false, drawTicks: true, tickLength: 5, tickWidth: 1.3, tickColor: '#222' },
                        border: { display: true, color: '#cccccc', width: 3 }
                    },
                    y: {
                        type: 'linear', min: yMin, max: yMax,
                        afterBuildTicks: s => { s.ticks = yTicks.map(v => ({ value: v })); },
                        afterFit: s => { s.width = yw; },
                        ticks: {
                            callback: v => c === 0 ? v.toFixed(1).replace('-', '\u2212') : '',
                            font: { size: 13 }, color: '#222', padding: 11
                        },
                        grid: {
                            color: ctx => (ctx.tick && ctx.tick.value === -0.5) ? 'rgba(0,0,0,0)' : '#ebebeb',
                            lineWidth: 1, drawTicks: true, tickLength: 5, tickWidth: 1.3, tickColor: '#222'
                        },
                        border: { display: true, color: '#cccccc', width: 3 },
                        title: {
                            display: c === 0, text: 'Norm. perf.', color: '#111',
                            font: { size: 13, weight: 'bold' }, padding: { top: 11, bottom: 0 }
                        }
                    }
                }
            }
        });

        addDiv('offset', '1e6', `left:${left + PW - 60}px;width:60px;text-align:right;top:${rowTop[r] + 183}px;`);
    });
});

// legend, three columns of two entries
const legendX = [277, 454, 639];
const legendY = [706, 728];
games.forEach((name, g) => {
    const col = Math.floor(g / 2), rowIdx = g % 2;
    const item = document.createElement('div');
    item.className = 'legItem';
    item.style.left = legendX[col] + 'px';
    item.style.top = (legendY[rowIdx] - 8) + 'px';
    const svgNS = 'http://www.w3.org/2000/svg';
    const svg = document.createElementNS(svgNS, 'svg');
    svg.setAttribute('width', '54');
    svg.setAttribute('height', '10');
    svg.style.left = '0px';
    svg.style.top = '3px';
    const line = document.createElementNS(svgNS, 'line');
    line.setAttribute('x1', '0'); line.setAttribute('y1', '5');
    line.setAttribute('x2', '54'); line.setAttribute('y2', '5');
    line.setAttribute('stroke', gameColors[g]);
    line.setAttribute('stroke-width', '4');
    if (dashThick[g].length) line.setAttribute('stroke-dasharray', dashThick[g].join(' '));
    svg.appendChild(line);
    item.appendChild(svg);
    const label = document.createElement('span');
    label.textContent = name;
    label.style.marginLeft = '66px';
    item.appendChild(label);
    stage.appendChild(item);
});
</script>
</body>
</html>
